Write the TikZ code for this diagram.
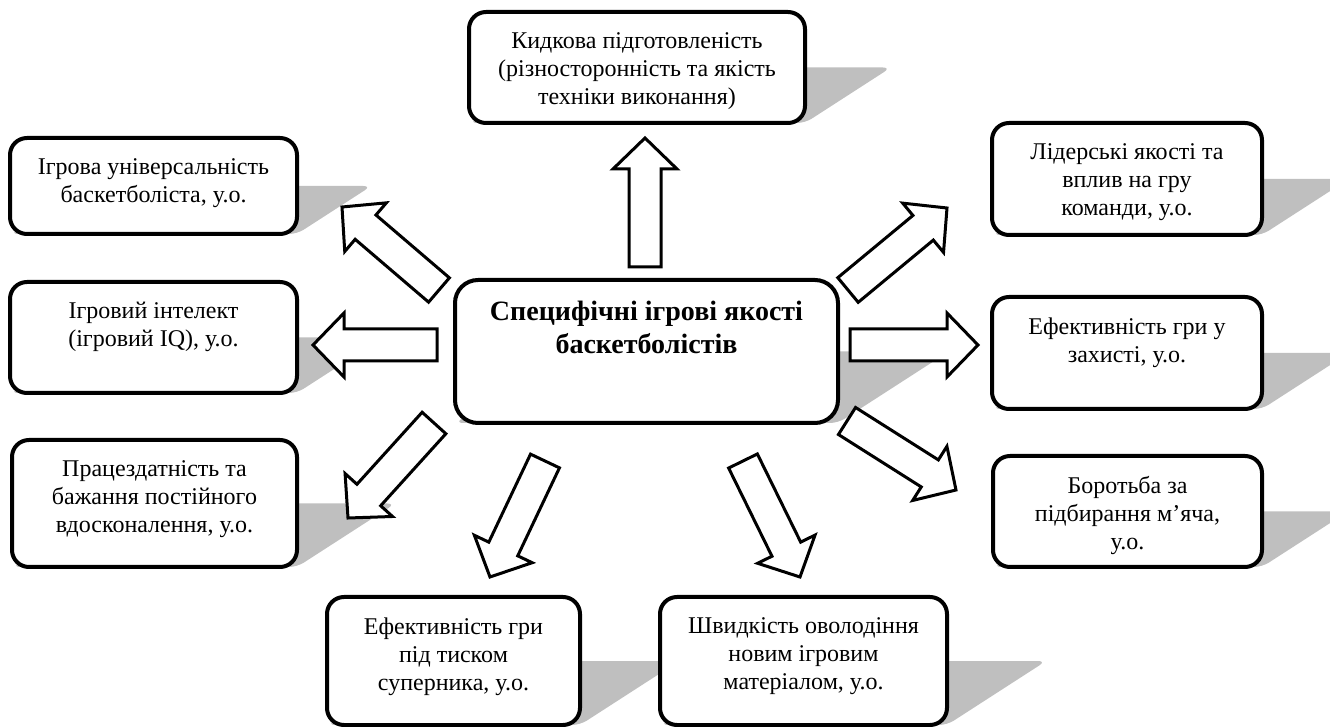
\documentclass[tikz,border=0pt]{standalone}
\usepackage{fontspec}
\setmainfont{Liberation Serif}
\usetikzlibrary{calc}
\pgfdeclarelayer{background}
\pgfsetlayers{background,main}
\definecolor{shadowc}{RGB}{191,191,191}
\tikzset{
  box/.style={draw, line width=2pt, rounded corners=8.5pt, fill=white, inner sep=0pt, outer sep=0pt},
  cbox/.style={box, rounded corners=11.5pt},
  txt/.style={align=center, inner sep=0pt, anchor=north, font=\fontsize{12}{14}\selectfont,
              execute at begin node={\rule{0pt}{9pt}}},
  ctxt/.style={align=center, inner sep=0pt, anchor=north, font=\fontsize{14}{16.5}\selectfont\bfseries,
              execute at begin node={\rule{0pt}{11pt}}},
  barr/.style={draw, line width=1.5pt, fill=white, line join=miter},
  shadowfill/.style={fill=shadowc, rounded corners=4pt}
}
\newcommand{\shadowof}[1]{%
  \path[shadowfill] let \p1=(#1.south east), \p2=(#1.north west),
    \n1={0.775*(\y2-\y1)}, \n2={(\y1+\y2)/2} in
    ({\x2+\n1*1pt},{\n2*1pt}) -- ({\x1+\n1*1pt},{\n2*1pt}) -- (\x1,\y1) -- (\x2,\y1) -- cycle;}
\newcommand{\barrow}[2]{%
  \draw[barr] ($(#1)!8pt!90:(#2)$)
    -- ($(#2)!15.5pt!(#1)!8pt!-90:(#1)$)
    -- ($(#2)!15.5pt!(#1)!16pt!-90:(#1)$)
    -- (#2)
    -- ($(#2)!15.5pt!(#1)!16pt!90:(#1)$)
    -- ($(#2)!15.5pt!(#1)!8pt!90:(#1)$)
    -- ($(#1)!8pt!-90:(#2)$) -- cycle;}
\begin{document}
\begin{tikzpicture}[x=0.5pt,y=-0.5pt]
\useasboundingbox (0,0) rectangle (1330,727);
% boxes
\node[box, minimum width=168pt, minimum height=55.5pt] (T) at (637,67.5) {};
\node[box, minimum width=143.5pt, minimum height=48pt] (L1) at (153.5,186) {};
\node[box, minimum width=143.5pt, minimum height=55.5pt] (L2) at (153.5,337.5) {};
\node[box, minimum width=142.5pt, minimum height=63.5pt] (L3) at (154.5,503.5) {};
\node[cbox, minimum width=191.5pt, minimum height=71.5pt] (C) at (646.5,351.5) {};
\node[box, minimum width=135pt, minimum height=56pt] (R1) at (1127,179) {};
\node[box, minimum width=135pt, minimum height=56pt] (R2) at (1127,353) {};
\node[box, minimum width=134.5pt, minimum height=55.5pt] (R3) at (1127.5,511.5) {};
\node[box, minimum width=126.5pt, minimum height=64pt] (B1) at (453.5,661) {};
\node[box, minimum width=143.5pt, minimum height=64pt] (B2) at (803.5,661) {};
% shadows
\begin{pgfonlayer}{background}
\begin{scope}
\clip (0,0) rectangle (1330,727);
\foreach \b in {T,L1,L2,L3,C,R1,R2,R3,B1,B2} {\shadowof{\b}}
\end{scope}
\end{pgfonlayer}
% texts
\node[txt] (Tt) at ($(T.north)+(0,20)$) {Кидкова підготовленість\\(різносторонність та якість\\техніки виконання)};
\node[txt] (L1t) at ($(L1.north)+(0,20)$) {Ігрова універсальність\\баскетболіста, у.о.};
\node[txt] (L2t) at ($(L2.north)+(0,20)$) {Ігровий інтелект\\(ігровий IQ), у.о.};
\node[txt] (L3t) at ($(L3.north)+(0,20)$) {Працездатність та\\бажання постійного\\вдосконалення, у.о.};
\node[ctxt] (Ct) at ($(C.north)+(0,21)$) {Специфічні ігрові якості\\баскетболістів};
\node[txt] (R1t) at ($(R1.north)+(0,20)$) {Лідерські якості та\\вплив на гру\\команди, у.о.};
\node[txt] (R2t) at ($(R2.north)+(0,20)$) {Ефективність гри у\\захисті, у.о.};
\node[txt] (R3t) at ($(R3.north)+(0,20)$) {Боротьба за\\підбирання м’яча,\\у.о.};
\node[txt] (B1t) at ($(B1.north)+(0,20)$) {Ефективність гри\\під тиском\\суперника, у.о.};
\node[txt] (B2t) at ($(B2.north)+(0,20)$) {Швидкість оволодіння\\новим ігровим\\матеріалом, у.о.};
% arrow ends
\coordinate (a1s) at (645,267);  \coordinate (a1e) at (645,138);
\coordinate (a2s) at (437,345);  \coordinate (a2e) at (313,345);
\coordinate (a3s) at (439,290);  \coordinate (a3e) at (342,207);
\coordinate (a4s) at (434,423);  \coordinate (a4e) at (348,518);
\coordinate (a5s) at (545,461);  \coordinate (a5e) at (490,577);
\coordinate (a6s) at (743,461);  \coordinate (a6e) at (800,577);
\coordinate (a7s) at (847,421);  \coordinate (a7e) at (956,490);
\coordinate (a8s) at (850,345);  \coordinate (a8e) at (978,345);
\coordinate (a9s) at (848,290);  \coordinate (a9e) at (947,208);
\barrow{a1s}{a1e}
\barrow{a2s}{a2e}
\barrow{a3s}{a3e}
\barrow{a4s}{a4e}
\barrow{a5s}{a5e}
\barrow{a6s}{a6e}
\barrow{a7s}{a7e}
\barrow{a8s}{a8e}
\barrow{a9s}{a9e}
\end{tikzpicture}
\end{document}
